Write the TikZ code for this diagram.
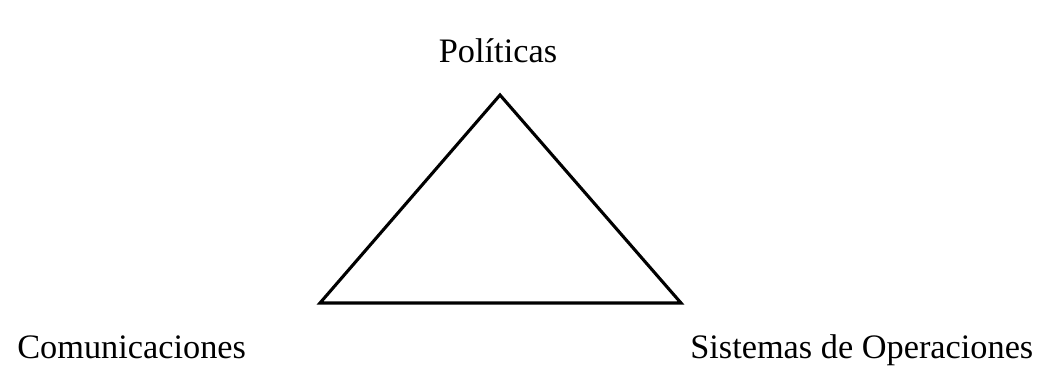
\documentclass[tikz,border=0pt]{standalone}
\usepackage{fontspec}
\setmainfont{Liberation Serif}
\usetikzlibrary{math}

\begin{document}
\begin{tikzpicture}[x=0.025cm,y=-0.025cm]
\tikzmath{
\W=1044;
\H=380;
}
\useasboundingbox (0,0) rectangle (\W,\H);
\tikzset{lbl/.style={inner sep=0pt,font=\fontsize{24.4}{28}\selectfont}}

% vertices
\coordinate (top) at (500,95);
\coordinate (left) at (320,303);
\coordinate (right) at (681,303);
\draw[line width=2.2pt,line join=miter] (top) -- (left) -- (right) -- cycle;

% labels
\node[lbl,anchor=base] (pol) at (498,63) {Políticas};
\node[lbl,anchor=base west] (com) at (17,358) {Comunicaciones};
\node[lbl,anchor=base west] (sis) at (690,358) {Sistemas de Operaciones};
\end{tikzpicture}
\end{document}
